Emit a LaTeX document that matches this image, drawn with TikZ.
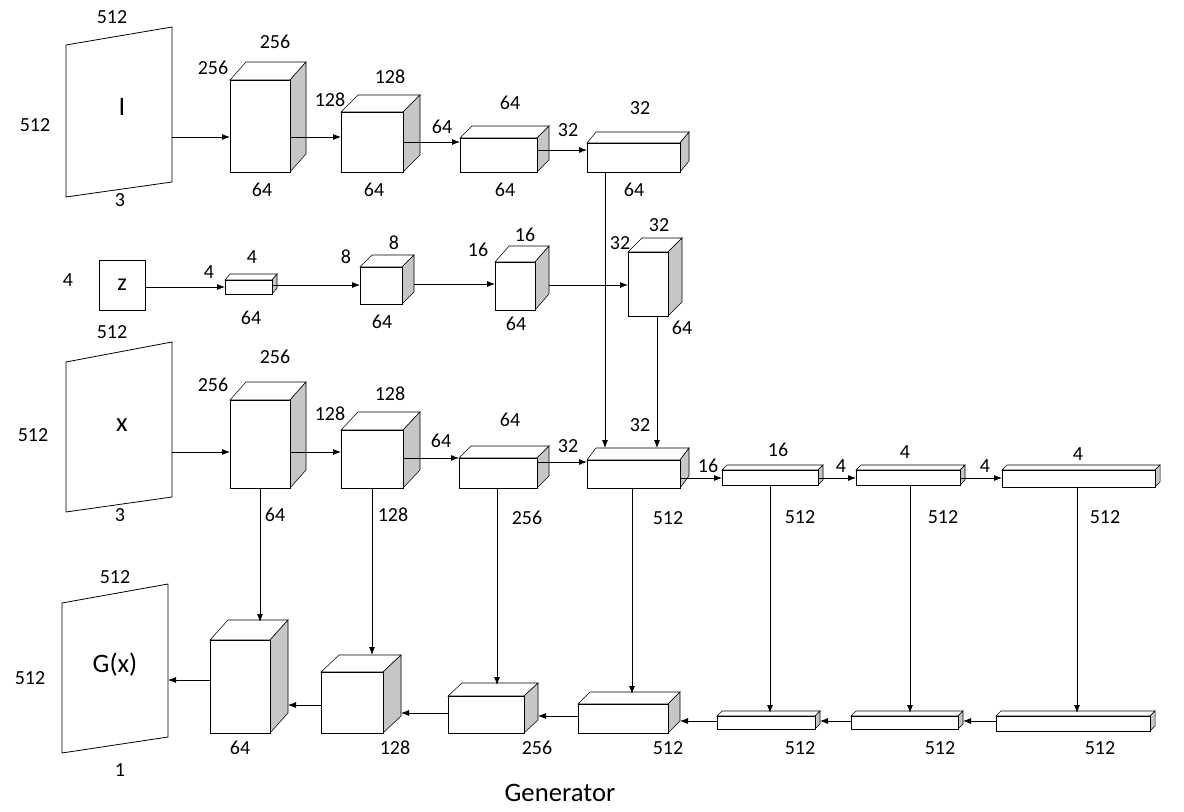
\documentclass[tikz,border=0pt]{standalone}
\usepackage{fontspec}
\setmainfont{Carlito}
\usetikzlibrary{arrows.meta}
\newcommand\cb[7]{%
 \draw[fill=white] (#2,#3) -- ++(#6,#7) -- ({#4+#6},{#3+#7}) -- (#4,#3) -- cycle;
 \draw[fill=gray!45] (#4,#3) -- ({#4+#6},{#3+#7}) -- ({#4+#6},{#5+#7}) -- (#4,#5) -- cycle;
 \node[draw,fill=white,inner sep=0,outer sep=0,anchor=north west,minimum width={(#4-#2)*0.75pt},minimum height={(#5-#3)*0.75pt}] (#1) at (#2,#3) {};}
\begin{document}
\begin{tikzpicture}[x=0.75pt,y=-0.75pt,font=\fontsize{15}{17}\selectfont,
 arr/.style={-{Latex[length=6pt,width=4.5pt]},line width=0.6pt},
 pl/.style={draw,line width=0.6pt,fill=white}]
\useasboundingbox (0,0) rectangle (1184,812);
% planes
\draw[pl] (66,45) -- (172,27) -- (172,182) -- (66,197) -- cycle;
\node (I) at (122,107) {\fontsize{20}{22}\selectfont I};
\coordinate (Ip) at (172,137);
\node at (112,17) {512}; \node at (35,125) {512}; \node at (120,200) {3};
\draw[pl] (66,362) -- (172,342) -- (172,497) -- (66,512) -- cycle;
\node (X) at (122,425) {\fontsize{20}{22}\selectfont x};
\coordinate (Xp) at (172,452);
\node at (112,332) {512}; \node at (33,435) {512}; \node at (120,515) {3};
\draw[pl] (62,603) -- (168,584) -- (168,737) -- (62,753) -- cycle;
\node (G) at (115,665) {\fontsize{20}{22}\selectfont G(x)};
\coordinate (Gp) at (168,680);
\node at (115,577) {512}; \node at (30,678) {512}; \node at (120,770) {1};
\node[draw,minimum width=46*0.75pt,minimum height=50*0.75pt,inner sep=0,outer sep=0] (Z) at (122,285) {\fontsize{18}{20}\selectfont z};
\node at (68,280) {4};
% row 1
\cb{a1}{230}{80}{290}{172}{16}{-18}
\cb{a2}{341}{112}{403}{172}{17}{-17}
\cb{a3}{460}{138}{537}{172}{12}{-12}
\cb{a4}{587}{143}{680}{172}{9}{-11}
\node at (213,68){256}; \node at (275,42){256}; \node at (262,190){64};
\node at (330,100){128}; \node at (390,77){128}; \node at (374,190){64};
\node at (442,127){64}; \node at (510,103){64}; \node at (505,190){64};
\node at (568,130){32}; \node at (640,108){32}; \node at (634,190){64};
\draw[arr] (Ip) -- (a1.west|-Ip);
\draw[arr] (a1.east|-0,137) -- (a2.west|-0,137);
\draw[arr] (a2.east|-0,142) -- (a3.west|-0,142);
\draw[arr] (a3.east|-0,150) -- (a4.west|-0,150);
% row 2
\cb{b1}{225}{280}{272}{294}{5}{-6}
\cb{b2}{360}{267}{402}{304}{12}{-12}
\cb{b3}{495}{262}{535}{310}{14}{-16}
\cb{b4}{628}{252}{668}{316}{14}{-14}
\node at (209,272){4}; \node at (252,257){4}; \node at (251,318){64};
\node at (346,257){8}; \node at (394,243){8}; \node at (382,322){64};
\node at (478,250){16}; \node at (525,235){16}; \node at (516,324){64};
\node at (620,243){32}; \node at (659,225){32}; \node at (682,328){64};
\draw[arr] (Z.east|-0,287) -- (b1.west|-0,287);
\draw[arr] (b1.east|-0,285) -- (b2.west|-0,285);
\draw[arr] (414,284) -- (b3.west|-0,284);
\draw[arr] (549,285) -- (b4.west|-0,285);
% row 3
\cb{c1}{230}{400}{290}{488}{16}{-18}
\cb{c2}{341}{430}{403}{488}{17}{-18}
\cb{c3}{459}{458}{537}{488}{12}{-12}
\cb{c4}{587}{460}{680}{488}{9}{-12}
\cb{c5}{722}{470}{818}{485}{5}{-5}
\cb{c6}{856}{470}{960}{485}{5}{-5}
\cb{c7}{1002}{470}{1155}{487}{5}{-5}
\node at (213,385){256}; \node at (275,357){256}; \node at (275,515){64};
\node at (330,414){128}; \node at (390,394){128}; \node at (393,515){128};
\node at (441,441){64}; \node at (510,420){64}; \node at (527,518){256};
\node at (568,446){32}; \node at (640,425){32}; \node at (668,518){512};
\node at (708,466){16}; \node at (778,450){16}; \node at (800,517){512};
\node at (841,466){4}; \node at (905,452){4}; \node at (943,517){512};
\node at (985,466){4}; \node at (1078,454){4}; \node at (1105,517){512};
\draw[arr] (Xp) -- (c1.west|-Xp);
\draw[arr] (c1.east|-0,452) -- (c2.west|-0,452);
\draw[arr] (c2.east|-0,458) -- (c3.west|-0,458);
\draw[arr] (c3.east|-0,462) -- (c4.west|-0,462);
\draw[arr] (c4.east|-0,478) -- (c5.west|-0,478);
\draw[arr] (c5.east|-0,478) -- (c6.west|-0,478);
\draw[arr] (c6.east|-0,478) -- (c7.west|-0,478);
\draw[arr] (a4.south-|605,0) -- (605,448);
\draw[arr] (b4.south-|657,0) -- (657,448);
% row 4
\cb{d1}{210}{640}{270}{733}{18}{-20}
\cb{d2}{321}{672}{383}{733}{18}{-17}
\cb{d3}{448}{696}{524}{733}{14}{-13}
\cb{d4}{578}{704}{668}{733}{12}{-12}
\cb{d5}{717}{716}{815}{729}{5}{-5}
\cb{d6}{851}{716}{958}{729}{5}{-5}
\cb{d7}{996}{716}{1150}{731}{5}{-5}
\node at (240,748){64}; \node at (395,748){128}; \node at (537,748){256};
\node at (668,748){512}; \node at (800,748){512}; \node at (940,748){512}; \node at (1100,748){512};
\draw[arr] (d1.west|-Gp) -- (Gp);
\draw[arr] (d2.west|-0,705) -- (288,705);
\draw[arr] (d3.west|-0,713) -- (401,713);
\draw[arr] (d4.west|-0,716) -- (538,716);
\draw[arr] (d5.west|-0,721) -- (680,721);
\draw[arr] (d6.west|-0,721) -- (820,721);
\draw[arr] (d7.west|-0,721) -- (963,721);
\draw[arr] (c1.south-|260,0) -- (260,622);
\draw[arr] (c2.south-|372,0) -- (372,655);
\draw[arr] (c3.south-|497,0) -- (497,685);
\draw[arr] (c4.south-|632,0) -- (632,694);
\draw[arr] (c5.south-|770,0) -- (770,713);
\draw[arr] (c6.south-|910,0) -- (910,713);
\draw[arr] (c7.south-|1077,0) -- (1077,713);
\node at (560,793) {\fontsize{20}{22}\selectfont Generator};
\end{tikzpicture}
\end{document}
